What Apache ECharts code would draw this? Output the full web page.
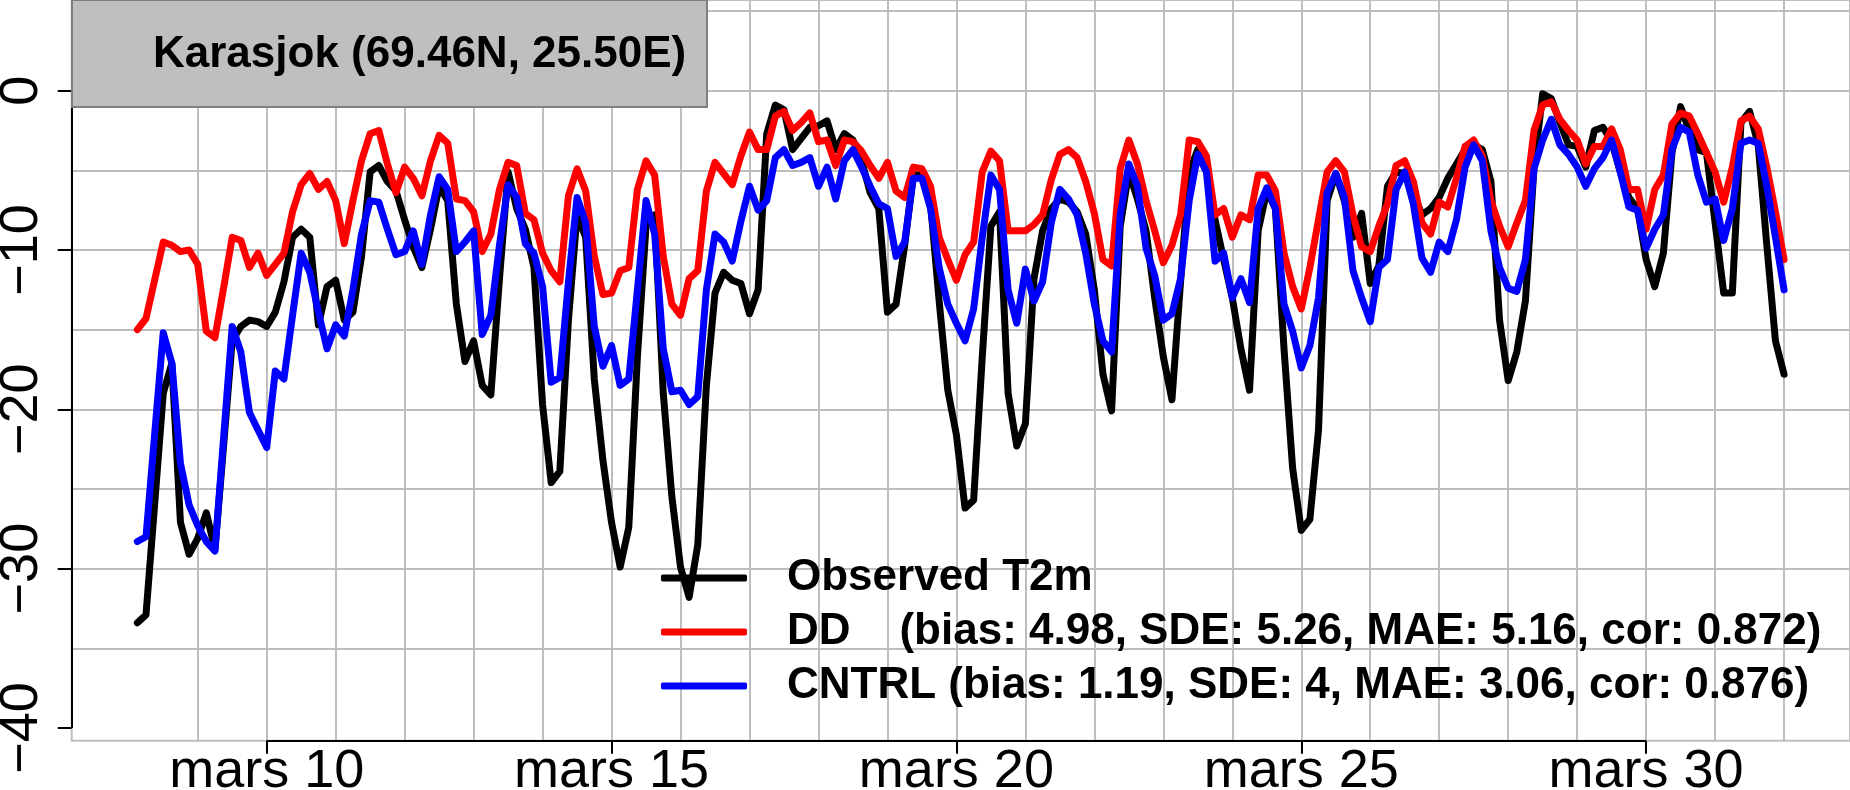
<!DOCTYPE html>
<html>
<head>
<meta charset="utf-8">
<script src="https://cdn.jsdelivr.net/npm/echarts@6/dist/echarts.min.js"></script>
<style>
html,body{margin:0;padding:0;background:#fff;}
#main{width:1850px;height:790px;}
</style>
</head>
<body>
<div id="main"></div>
<script>
// time axis in days of March (32 = 1 April), 3-hourly from mars 8 03:00
var startDay = 8.125;
var stepDay = 0.125;

// observed 2m temperature, one row per day (03 .. 24 UTC)
var obs = [
  -33.4,-32.9,-26.0,-19.0,-17.1,-27.1,-29.1,-28.1,
  -26.5,-28.8,-22.3,-15.7,-14.8,-14.4,-14.5,-14.8,
  -13.9,-12.0,-9.2,-8.7,-9.2,-14.7,-12.3,-11.9,
  -14.4,-13.9,-10.4,-5.1,-4.7,-5.7,-6.3,-8.1,
  -9.8,-11.1,-8.7,-6.0,-6.9,-13.4,-17.0,-15.7,
  -18.5,-19.1,-11.8,-5.1,-7.4,-8.7,-11.1,-19.7,
  -24.6,-23.9,-14.4,-7.8,-9.2,-18.1,-23.2,-27.1,
  -29.9,-27.4,-16.7,-8.5,-7.8,-19.0,-25.5,-29.9,
  -31.8,-28.5,-18.5,-12.7,-11.4,-11.9,-12.1,-14.0,
  -12.5,-2.7,-0.9,-1.2,-3.7,-3.0,-2.3,-2.2,
  -1.9,-3.7,-2.7,-3.1,-4.4,-6.4,-7.4,-13.9,
  -13.4,-9.7,-5.3,-5.3,-7.1,-13.2,-18.8,-21.6,
  -26.2,-25.7,-16.7,-8.5,-7.6,-19.0,-22.3,-20.9,
  -11.8,-8.8,-7.4,-6.8,-7.0,-7.6,-9.0,-12.5,
  -17.8,-20.1,-8.5,-5.1,-6.8,-8.8,-13.0,-16.7,
  -19.4,-12.0,-5.1,-3.7,-4.8,-8.1,-10.6,-13.0,
  -16.2,-18.8,-8.8,-6.3,-7.4,-16.2,-23.7,-27.6,
  -26.9,-21.3,-6.9,-5.2,-6.9,-9.2,-7.7,-12.1,
  -11.0,-6.0,-5.1,-5.2,-6.4,-7.8,-7.4,-6.7,
  -5.5,-4.6,-3.7,-3.4,-3.7,-5.7,-14.4,-18.2,
  -16.4,-13.2,-4.8,-0.2,-0.5,-2.0,-3.4,-3.5,
  -4.8,-2.5,-2.3,-3.2,-5.1,-6.7,-7.4,-10.6,
  -12.3,-10.2,-3.9,-1.0,-2.5,-3.7,-3.9,-8.3,
  -12.7,-12.7,-2.0,-1.3,-3.4,-9.7,-15.7,-17.8
];

// DD downscaled forecast
var dd = [
  -15.0,-14.3,-11.9,-9.5,-9.7,-10.1,-10.0,-10.9,
  -15.1,-15.5,-12.4,-9.2,-9.4,-11.1,-10.2,-11.6,
  -10.9,-10.2,-7.6,-5.9,-5.2,-6.2,-5.7,-6.9,
  -9.6,-6.9,-4.4,-2.7,-2.5,-4.6,-6.4,-4.8,
  -5.5,-6.6,-4.4,-2.8,-3.3,-6.8,-6.9,-7.6,
  -10.1,-9.0,-6.2,-4.5,-4.7,-7.7,-8.1,-10.2,
  -11.3,-12.0,-6.6,-4.9,-6.3,-10.4,-12.8,-12.7,
  -11.3,-11.1,-6.2,-4.4,-5.3,-10.4,-13.4,-14.1,
  -11.8,-11.3,-6.3,-4.5,-5.2,-5.9,-4.1,-2.6,
  -3.7,-3.7,-1.6,-1.3,-2.5,-2.0,-1.4,-3.2,
  -3.1,-4.7,-3.1,-3.2,-3.8,-4.7,-5.5,-4.5,
  -6.3,-6.7,-4.8,-4.9,-6.0,-9.2,-10.6,-11.9,
  -10.3,-9.5,-5.1,-3.8,-4.4,-8.8,-8.8,-8.8,
  -8.4,-7.8,-5.6,-4.0,-3.7,-4.2,-5.7,-7.7,
  -10.6,-11.0,-4.9,-3.1,-4.6,-6.9,-8.8,-10.8,
  -9.7,-7.8,-3.1,-3.2,-4.1,-7.8,-7.4,-9.2,
  -7.8,-8.1,-5.3,-5.3,-6.3,-10.2,-12.3,-13.7,
  -11.1,-8.1,-5.1,-4.4,-5.1,-7.8,-9.8,-10.1,
  -8.5,-7.1,-4.7,-4.4,-5.7,-8.3,-9.0,-7.0,
  -7.3,-5.5,-3.5,-3.1,-4.1,-6.9,-8.5,-9.8,
  -8.3,-6.9,-2.5,-0.9,-0.7,-1.8,-2.5,-3.1,
  -4.6,-3.5,-3.5,-2.4,-3.7,-6.2,-6.2,-8.7,
  -6.2,-5.3,-2.1,-1.4,-1.6,-2.7,-3.9,-5.1,
  -7.0,-4.8,-1.9,-1.6,-2.4,-4.8,-7.6,-10.6
];

// CNTRL forecast
var cntrl = [
  -28.3,-28.0,-21.6,-15.2,-17.1,-23.4,-26.0,-27.3,
  -28.3,-28.9,-21.8,-14.8,-16.4,-20.2,-21.3,-22.4,
  -17.6,-18.1,-14.1,-10.2,-11.4,-13.9,-16.2,-14.7,
  -15.4,-12.5,-9.0,-6.9,-7.0,-8.7,-10.3,-10.1,
  -8.8,-10.9,-7.8,-5.4,-6.2,-10.1,-9.5,-8.8,
  -15.3,-14.1,-9.7,-5.9,-6.7,-9.6,-10.2,-12.3,
  -18.3,-18.0,-12.0,-6.7,-8.3,-14.8,-17.3,-16.0,
  -18.5,-18.1,-12.5,-6.9,-9.0,-16.2,-18.9,-18.8,
  -19.7,-19.2,-12.5,-9.0,-9.5,-10.7,-8.2,-6.0,
  -7.5,-6.9,-4.2,-3.7,-4.7,-4.5,-4.2,-6.0,
  -4.8,-6.8,-4.4,-3.7,-4.8,-6.0,-7.1,-7.4,
  -10.4,-9.5,-5.5,-5.5,-7.4,-11.1,-13.4,-14.6,
  -15.7,-13.7,-9.2,-5.3,-6.2,-12.5,-14.6,-11.2,
  -13.2,-12.0,-8.3,-6.2,-6.8,-7.8,-10.2,-13.4,
  -15.7,-16.4,-7.8,-4.6,-6.0,-9.9,-11.6,-14.4,
  -14.0,-11.8,-6.9,-4.0,-5.1,-10.7,-10.2,-13.0,
  -11.8,-13.3,-7.4,-6.1,-7.4,-13.4,-15.1,-17.4,
  -16.0,-13.0,-6.4,-5.2,-6.7,-11.3,-13.0,-14.5,
  -11.1,-10.6,-6.2,-5.1,-7.1,-10.5,-11.4,-9.5,
  -10.1,-8.1,-4.8,-3.4,-4.4,-8.8,-11.1,-12.4,
  -12.6,-10.6,-4.9,-3.1,-1.8,-3.4,-4.0,-4.8,
  -6.0,-4.9,-4.2,-3.1,-5.1,-7.3,-7.5,-9.9,
  -8.7,-7.8,-3.7,-2.3,-2.6,-5.3,-7.0,-6.8,
  -9.4,-7.4,-3.3,-3.1,-3.3,-6.0,-9.2,-12.5
];

var seriesNames = [
  'Observed T2m',
  'DD    (bias: 4.98, SDE: 5.26, MAE: 5.16, cor: 0.872)',
  'CNTRL (bias: 1.19, SDE: 4, MAE: 3.06, cor: 0.876)'
];
var titleText = 'Karasjok (69.46N, 25.50E)';

var gridDays = [9,10,11,12,13,14,15,16,17,18,19,20,21,22,23,24,25,26,27,28,29,30,31,32];
var labelDays = [10,15,20,25,30];
var gridTemps = [-35,-30,-25,-20,-15,-10,-5,0,5];
var labelTemps = [-40,-30,-20,-10,0];

var xMin = 7.173, xMax = 32.956;
var yMin = -40.8, yMax = 5.69;

function pairs(vals){
  return vals.map(function(v,i){ return [startDay + i*stepDay, v]; });
}

var font = '"Liberation Sans", Arial, Helvetica, sans-serif';
var myChart = echarts.init(document.getElementById('main'));

function lineSeries(name, vals, color){
  return {
    name: name,
    type: 'line',
    data: pairs(vals),
    showSymbol: false,
    symbol: 'none',
    color: color,
    lineStyle: {color: color, width: 7, cap: 'round', join: 'round'},
    emphasis: {disabled: true},
    silent: true
  };
}

var option = {
  animation: false,
  backgroundColor: '#fff',
  title: {
    text: titleText,
    left: 72,
    top: 0,
    padding: [33, 21, 30, 81],
    backgroundColor: '#bfbfbf',
    borderColor: '#7f7f7f',
    borderWidth: 2,
    textStyle: {fontFamily: font, fontSize: 44, fontWeight: 'bold', color: '#000', lineHeight: 44}
  },
  legend: {
    orient: 'vertical',
    left: 661,
    top: 551,
    padding: 0,
    itemGap: 0,
    itemWidth: 86,
    itemHeight: 7,
    icon: 'roundRect',
    selectedMode: false,
    data: seriesNames,
    textStyle: {fontFamily: font, fontSize: 44, fontWeight: 'bold', color: '#000', lineHeight: 54, padding: [0, 0, 0, 35]}
  },
  grid: {
    left: 71.7, right: 0, top: 0, bottom: 49.3,
    show: true, borderColor: '#bebebe', borderWidth: 2,
    containLabel: false, outerBoundsMode: 'none'
  },
  xAxis: [{
    type: 'value', min: xMin, max: xMax,
    axisLine: {show: false, onZero: false},
    axisTick: {show: false, customValues: gridDays},
    axisLabel: {show: false},
    splitLine: {show: true, lineStyle: {color: '#bebebe', width: 2}}
  }, {
    type: 'value', min: xMin, max: xMax, position: 'bottom',
    axisLine: {show: false, onZero: false},
    axisTick: {show: true, customValues: labelDays, length: 13, lineStyle: {color: '#000', width: 2}},
    axisLabel: {
      customValues: labelDays, margin: 4,
      fontFamily: font, fontSize: 54, color: '#000', lineHeight: 54,
      formatter: function(v){ return 'mars ' + v; }
    },
    splitLine: {show: false}
  }],
  yAxis: [{
    type: 'value', min: yMin, max: yMax,
    axisLine: {show: false, onZero: false},
    axisTick: {show: false, customValues: gridTemps},
    axisLabel: {show: false},
    splitLine: {show: true, lineStyle: {color: '#bebebe', width: 2}}
  }, {
    type: 'value', min: yMin, max: yMax, position: 'left',
    axisLine: {show: false, onZero: false},
    axisTick: {show: true, customValues: labelTemps, length: 14, lineStyle: {color: '#000', width: 2}},
    axisLabel: {
      customValues: labelTemps, rotate: 90, margin: 23,
      fontFamily: font, fontSize: 54, color: '#000', lineHeight: 54,
      formatter: function(v){ return v < 0 ? '\u2212' + (-v) : String(v); }
    },
    splitLine: {show: false}
  }],
  series: [
    lineSeries(seriesNames[0], obs, '#000000'),
    lineSeries(seriesNames[1], dd, '#ff0000'),
    lineSeries(seriesNames[2], cntrl, '#0000ff'),
    {
      // axis lines, drawn only over the tick span like R does
      name: 'axes',
      type: 'line',
      data: [],
      clip: false,
      silent: true,
      markLine: {
        silent: true,
        symbol: ['none', 'none'],
        label: {show: false},
        emphasis: {disabled: true},
        lineStyle: {color: '#000', width: 2, type: 'solid'},
        data: [
          [{coord: [labelDays[0], yMin]}, {coord: [labelDays[labelDays.length - 1], yMin]}],
          [{coord: [xMin, labelTemps[0]]}, {coord: [xMin, labelTemps[labelTemps.length - 1]]}]
        ]
      }
    }
  ]
};
myChart.setOption(option);
</script>
</body>
</html>
